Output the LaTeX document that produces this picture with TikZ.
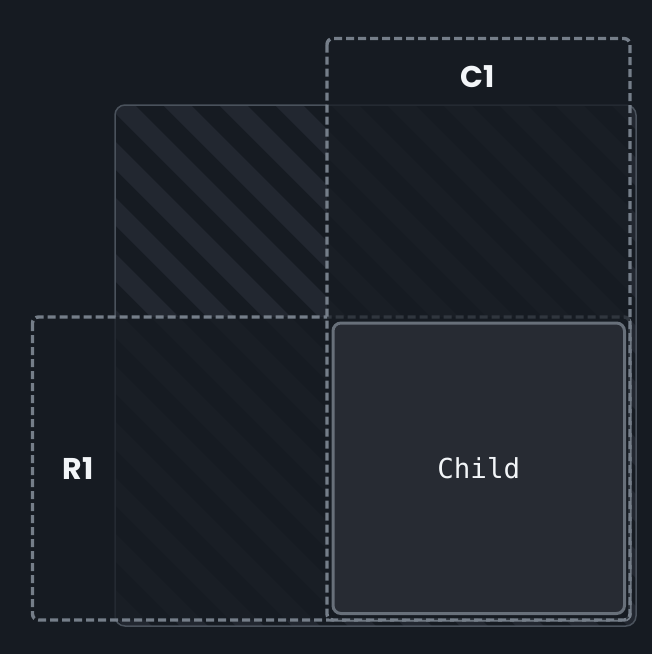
\documentclass[tikz,border=0pt]{standalone}
\usepackage{fontspec}
\setmainfont{Poppins}
\newfontfamily\monofont{DejaVu Sans Mono}
\definecolor{bgc}{HTML}{161B22}
\definecolor{stripec}{HTML}{222730}
\definecolor{framec}{HTML}{4A525C}
\definecolor{dashc}{HTML}{757E89}
\definecolor{childfill}{HTML}{272B33}
\definecolor{childline}{HTML}{68707A}
\definecolor{txtc}{HTML}{F2F5F8}
\tikzset{
  trackbox/.style={draw=dashc, line width=3.4pt, dash pattern=on 8pt off 4pt, rounded corners=6pt, fill=bgc, fill opacity=0.72, draw opacity=1},
  labeltext/.style={text=txtc, font=\bfseries\fontsize{30}{32}\selectfont, inner sep=0pt},
  childbox/.style={draw=childline, line width=3pt, fill=childfill, rounded corners=8pt, text=txtc, font=\monofont\fontsize{27.5}{30}\selectfont}
}
\begin{document}
\begin{tikzpicture}[x=1pt,y=-1pt]
\fill[bgc] (0,0) rectangle (652,654);
\useasboundingbox (0,0) rectangle (652,654);
% container with stripes
\begin{scope}
  \clip[rounded corners=10pt] (115,105) rectangle (636,626);
  \foreach \k in {-12,...,12}{
    \draw[stripec, line width=19.8pt] ({16+56*\k},0) -- ({16+56*\k+700},700);
  }
\end{scope}
\draw[framec, line width=1.5pt, rounded corners=10pt] (115,105) rectangle (636,626);
% row and column tracks
\draw[trackbox] (32.5,317) rectangle (630,620);
\draw[trackbox] (327,38.5) rectangle (630,620);
\node[labeltext] (r1) at (78,469) {R1};
\node[labeltext] (c1) at (478,77) {C1};
% child
\node[childbox, minimum width=291.5pt, minimum height=290.5pt, inner sep=0pt] (child) at (478.75,468.25) {Child};
\end{tikzpicture}
\end{document}
